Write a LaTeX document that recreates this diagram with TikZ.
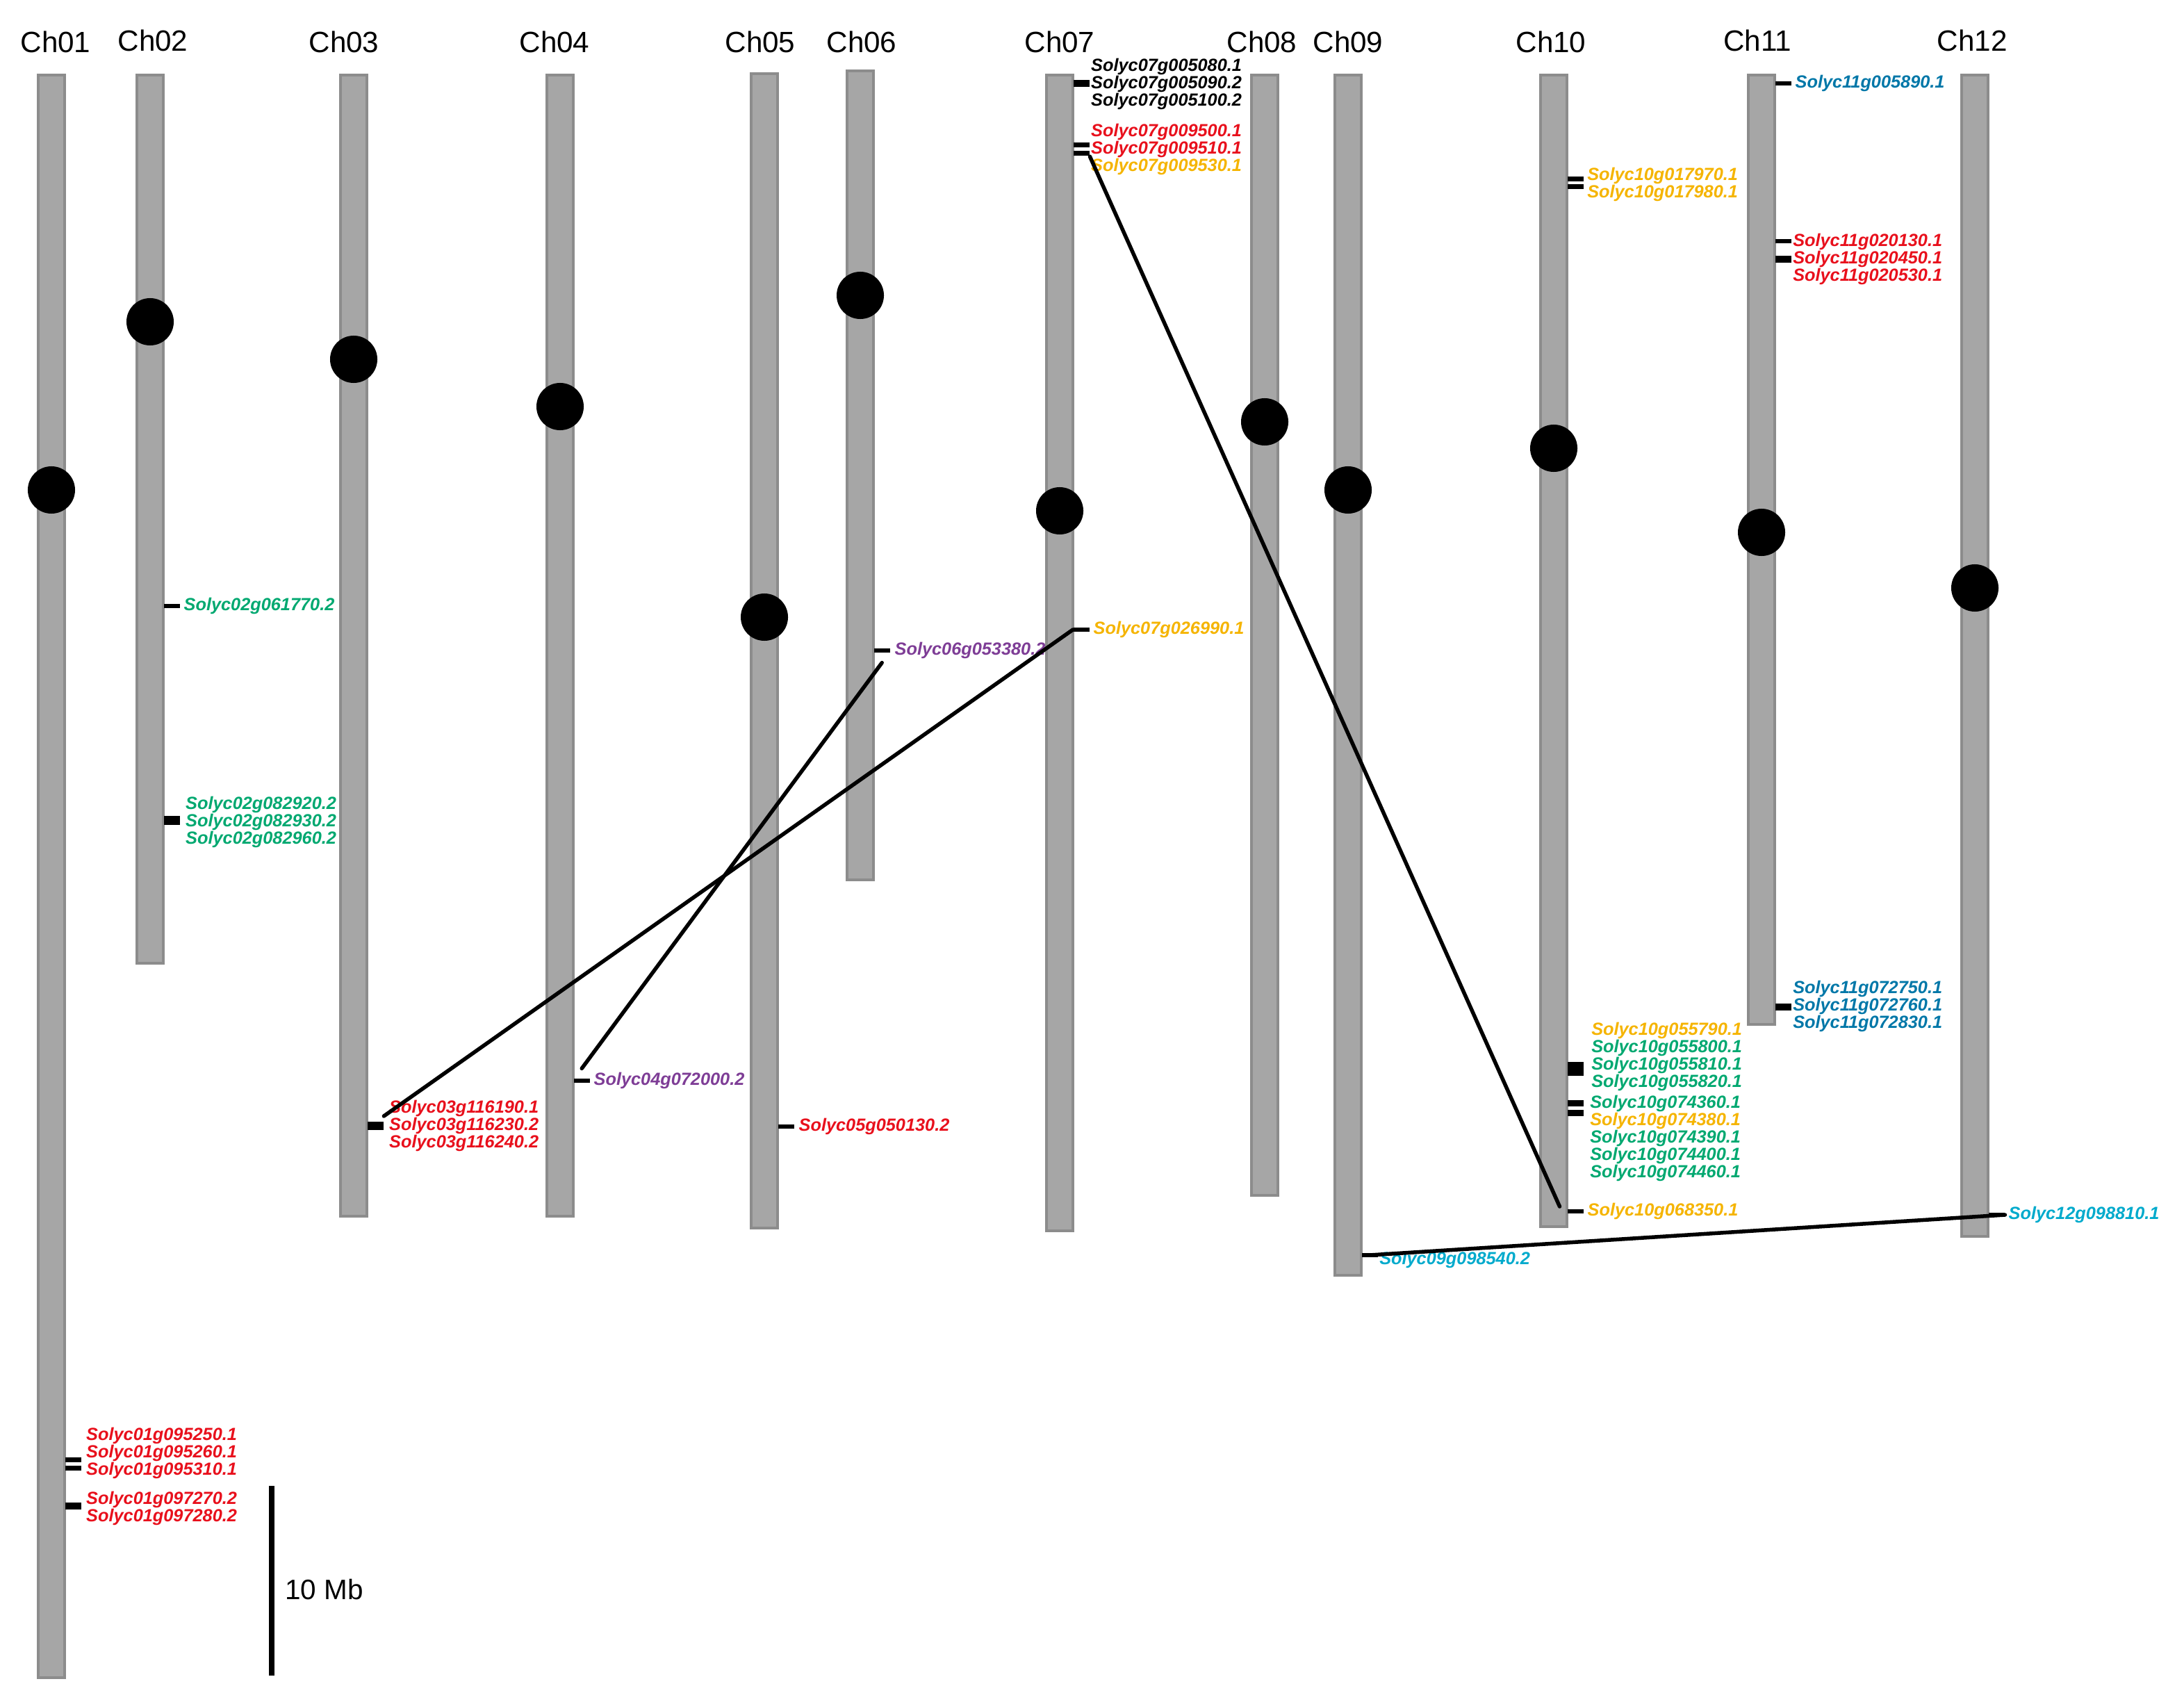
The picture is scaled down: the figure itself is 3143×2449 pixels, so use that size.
\documentclass[tikz,border=0pt]{standalone}
\usepackage{fontspec}
\setmainfont{Liberation Sans}
\usepackage{xcolor}
\definecolor{chrgray}{HTML}{A6A6A6}
\definecolor{chredge}{HTML}{8C8C8C}
\definecolor{genered}{HTML}{E8101C}
\definecolor{genegreen}{HTML}{00A870}
\definecolor{geneyellow}{HTML}{F5B400}
\definecolor{genepurple}{HTML}{7E3D96}
\definecolor{geneblue}{HTML}{0077A8}
\definecolor{genecyan}{HTML}{00AACC}
\usetikzlibrary{positioning}

\begin{document}
\begin{tikzpicture}[
        x=0.01cm, y=-0.01cm,
        chr/.style={rectangle, draw=chredge, fill=chrgray, line width=0.04cm, minimum width=0.38cm, inner sep=0, anchor=north},
        cen/.style={circle, fill=black, minimum size=0.68cm, inner sep=0},
        chrlab/.style={font=\fontsize{12}{14}\selectfont},
        tick/.style={rectangle, fill=black, minimum width=0.23cm, minimum height=0.06cm, inner sep=0, anchor=west},
        blk/.style={tick, minimum height=0.12cm},
        gene/.style={font=\fontsize{7.2}{7.1}\selectfont\bfseries\itshape, align=left, anchor=west, inner sep=1pt},
        link/.style={line width=0.055cm, line cap=round}
    ]
        \useasboundingbox (0,0) rectangle (3143,2449);

        % chromosomes
        \node[chr, minimum height=23.05cm] (ch01) at (74,106) {};
        \node[chr, minimum height=12.77cm] (ch02) at (216,106) {};
        \node[chr, minimum height=16.41cm] (ch03) at (509,106) {};
        \node[chr, minimum height=16.41cm] (ch04) at (806,106) {};
        \node[chr, minimum height=16.60cm] (ch05) at (1100,104) {};
        \node[chr, minimum height=11.63cm] (ch06) at (1238,100) {};
        \node[chr, minimum height=16.62cm] (ch07) at (1525,106) {};
        \node[chr, minimum height=16.11cm] (ch08) at (1820,106) {};
        \node[chr, minimum height=17.26cm] (ch09) at (1940,106) {};
        \node[chr, minimum height=16.56cm] (ch10) at (2236,106) {};
        \node[chr, minimum height=13.65cm] (ch11) at (2535,106) {};
        \node[chr, minimum height=16.70cm] (ch12) at (2842,106) {};

        % centromeres
        \node[cen] (cen01) at (74,705) {};
        \node[cen] (cen02) at (216,463) {};
        \node[cen] (cen03) at (509,517) {};
        \node[cen] (cen04) at (806,585) {};
        \node[cen] (cen05) at (1100,888) {};
        \node[cen] (cen06) at (1238,425) {};
        \node[cen] (cen07) at (1525,735) {};
        \node[cen] (cen08) at (1820,607) {};
        \node[cen] (cen09) at (1940,705) {};
        \node[cen] (cen10) at (2236,645) {};
        \node[cen] (cen11) at (2535,766) {};
        \node[cen] (cen12) at (2842,846) {};

        % chromosome names
        \node[chrlab] (lab01) at (80,60) {Ch01};
        \node[chrlab] (lab02) at (220,58) {Ch02};
        \node[chrlab] (lab03) at (495,60) {Ch03};
        \node[chrlab] (lab04) at (798,60) {Ch04};
        \node[chrlab] (lab05) at (1094,60) {Ch05};
        \node[chrlab] (lab06) at (1240,60) {Ch06};
        \node[chrlab] (lab07) at (1525,60) {Ch07};
        \node[chrlab] (lab08) at (1816,60) {Ch08};
        \node[chrlab] (lab09) at (1940,60) {Ch09};
        \node[chrlab] (lab10) at (2232,60) {Ch10};
        \node[chrlab] (lab11) at (2529,58) {Ch11};
        \node[chrlab] (lab12) at (2838,58) {Ch12};

        % gene positions
        \node[tick, minimum height=0.07cm] (t01a1) at (93,2100) {};
        \node[tick, minimum height=0.07cm] (t01a2) at (93,2112) {};
        \node[blk, minimum height=0.10cm] (t01b) at (93,2167) {};
        \node[tick] (t02a) at (235,872) {};
        \node[blk, minimum height=0.13cm] (t02b) at (235,1180) {};
        \node[blk] (t03) at (528,1620) {};
        \node[tick] (t04) at (825,1555) {};
        \node[tick] (t05) at (1119,1621) {};
        \node[tick] (t06) at (1257,936) {};
        \node[blk, minimum height=0.10cm] (t07a) at (1544,120) {};
        \node[tick, minimum height=0.07cm] (t07b1) at (1544,209) {};
        \node[tick, minimum height=0.07cm] (t07b2) at (1544,221) {};
        \node[tick] (t07c) at (1544,906) {};
        \node[tick] (t09) at (1959,1806) {};
        \node[tick, minimum height=0.07cm] (t10a1) at (2255,258) {};
        \node[tick, minimum height=0.07cm] (t10a2) at (2255,269) {};
        \node[blk, minimum height=0.20cm] (t10b) at (2255,1538) {};
        \node[blk, minimum height=0.09cm] (t10c1) at (2255,1587) {};
        \node[blk, minimum height=0.09cm] (t10c2) at (2255,1601) {};
        \node[tick] (t10d) at (2255,1743) {};
        \node[tick] (t11a) at (2554,120) {};
        \node[tick] (t11b) at (2554,347) {};
        \node[blk, minimum height=0.10cm] (t11c) at (2554,373) {};
        \node[blk, minimum height=0.10cm] (t11d) at (2554,1449) {};
        \node[tick] (t12) at (2861,1748) {};

        % gene names
        \node[gene, text=genered] (g01a) at (120,2091) {Solyc01g095250.1\\Solyc01g095260.1\\Solyc01g095310.1};
        \node[gene, text=genered] (g01b) at (120,2170) {Solyc01g097270.2\\Solyc01g097280.2};
        \node[gene, text=genegreen, right=0.01cm of t02a] (g02a) {Solyc02g061770.2};
        \node[gene, text=genegreen] (g02b) at (263,1183) {Solyc02g082920.2\\Solyc02g082930.2\\Solyc02g082960.2};
        \node[gene, text=genered] (g03) at (556,1620) {Solyc03g116190.1\\Solyc03g116230.2\\Solyc03g116240.2};
        \node[gene, text=genepurple, right=0.01cm of t04] (g04) {Solyc04g072000.2};
        \node[gene, text=genered, right=0.02cm of t05] (g05) {Solyc05g050130.2};
        \node[gene, text=genepurple, right=0.02cm of t06] (g06) {Solyc06g053380.2};
        \node[gene, text=black] (g07a) at (1566,121) {Solyc07g005080.1\\Solyc07g005090.2\\Solyc07g005100.2};
        \node[gene] (g07b) at (1566,215) {\textcolor{genered}{Solyc07g009500.1}\\\textcolor{genered}{Solyc07g009510.1}\\\textcolor{geneyellow}{Solyc07g009530.1}};
        \node[gene, text=geneyellow, right=0.01cm of t07c] (g07c) {Solyc07g026990.1};
        \node[gene, text=genecyan] (g09) at (1981,1813) {Solyc09g098540.2};
        \node[gene, text=geneyellow] (g10a) at (2280,265) {Solyc10g017970.1\\Solyc10g017980.1};
        \node[gene] (g10b) at (2286,1520) {\textcolor{geneyellow}{Solyc10g055790.1}\\\textcolor{genegreen}{Solyc10g055800.1}\\\textcolor{genegreen}{Solyc10g055810.1}\\\textcolor{genegreen}{Solyc10g055820.1}};
        \node[gene] (g10c) at (2284,1638) {\textcolor{genegreen}{Solyc10g074360.1}\\\textcolor{geneyellow}{Solyc10g074380.1}\\\textcolor{genegreen}{Solyc10g074390.1}\\\textcolor{genegreen}{Solyc10g074400.1}\\\textcolor{genegreen}{Solyc10g074460.1}};
        \node[gene, text=geneyellow, right=0.01cm of t10d] (g10d) {Solyc10g068350.1};
        \node[gene, text=geneblue, right=0.01cm of t11a] (g11a) {Solyc11g005890.1};
        \node[gene, text=genered] (g11b) at (2576,373) {Solyc11g020130.1\\Solyc11g020450.1\\Solyc11g020530.1};
        \node[gene, text=geneblue] (g11d) at (2576,1448) {Solyc11g072750.1\\Solyc11g072760.1\\Solyc11g072830.1};
        \node[gene, text=genecyan, right=0.01cm of t12] (g12) {Solyc12g098810.1};

        % scale bar
        \coordinate (sbtop) at (391,2138);
        \coordinate (sbbot) at (391,2411);
        \draw[line width=0.08cm] (sbtop) -- (sbbot);
        \node[anchor=west, font=\fontsize{11.5}{13}\selectfont] (sblab) at (398,2287) {10 Mb};

        % duplicated pairs
        \draw[link] ([yshift=4pt]t03.east) -- (t07c.west);
        \draw[link] ([yshift=5pt]t04.center) -- ([yshift=-5pt]t06.center);
        \draw[link] (t07b2.south east) -- ([xshift=-3pt,yshift=2pt]t10d.west);
        \draw[link] (t09.center) -- (t12.east);
    \end{tikzpicture}
\end{document}
